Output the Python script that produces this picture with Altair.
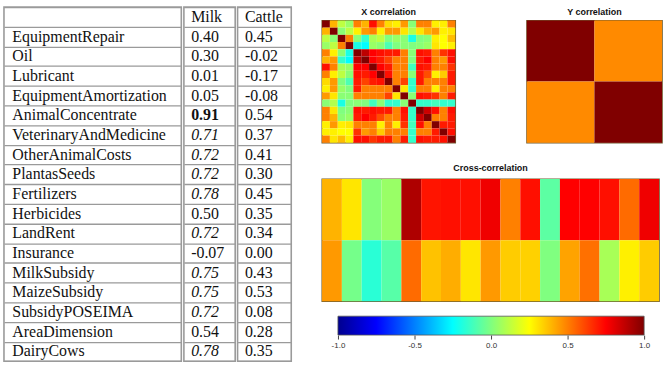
import altair as alt
import pandas as pd

# ---------------- data ----------------
variables = ["EquipmentRepair", "Oil", "Lubricant", "EquipmentAmortization",
             "AnimalConcentrate", "VeterinaryAndMedicine", "OtherAnimalCosts",
             "PlantasSeeds", "Fertilizers", "Herbicides", "LandRent", "Insurance",
             "MilkSubsidy", "MaizeSubsidy", "SubsidyPOSEIMA", "AreaDimension", "DairyCows"]
outputs = ["Milk", "Cattle"]
milk = [0.40, 0.30, 0.01, 0.05, 0.91, 0.71, 0.72, 0.72, 0.78, 0.50, 0.72, -0.07,
        0.75, 0.75, 0.72, 0.54, 0.78]
cattle = [0.45, -0.02, -0.17, -0.08, 0.54, 0.37, 0.41, 0.30, 0.45, 0.35, 0.34, 0.00,
          0.43, 0.53, 0.08, 0.28, 0.35]
milk_style = ["normal", "normal", "normal", "normal", "bold", "italic", "italic",
              "italic", "italic", "normal", "italic", "normal", "italic", "italic",
              "italic", "normal", "italic"]

y_corr = [[1.00, 0.48],
          [0.48, 1.00]]

# upper triangle of the X correlation matrix (row i, columns i+1 .. 16)
x_corr_upper = [
    [0.40, 0.12, 0.05, 0.50, 0.40, 0.72, 0.50, 0.32, 0.28, 0.45, 0.02, 0.50, 0.50, 0.28, 0.28, 0.50],
    [0.02, 0.12, 0.28, 0.45, 0.50, 0.28, 0.45, 0.45, 0.30, 0.10, 0.30, 0.40, 0.45, 0.28, 0.30],
    [0.50, 0.02, -0.15, 0.08, 0.12, 0.00, 0.05, 0.02, -0.20, 0.00, 0.02, 0.28, 0.25, 0.38],
    [-0.20, -0.25, 0.05, 0.02, -0.10, 0.00, 0.02, 0.00, 0.02, 0.05, 0.30, 0.25, 0.28],
    [0.88, 0.75, 0.72, 0.70, 0.70, 0.50, 0.02, 0.72, 0.70, 0.50, 0.65, 0.72],
    [0.75, 0.70, 0.62, 0.50, 0.50, 0.00, 0.70, 0.75, 0.50, 0.45, 0.72],
    [0.75, 0.70, 0.50, 0.50, -0.12, 0.72, 0.70, 0.50, 0.50, 0.65],
    [0.72, 0.50, 0.50, 0.02, 0.70, 0.60, 0.28, 0.35, 0.70],
    [0.50, 0.62, -0.15, 0.70, 0.50, 0.50, 0.50, 0.70],
    [0.30, -0.15, 0.50, 0.50, 0.28, 0.50, 0.50],
    [0.02, 0.72, 0.70, 0.65, 0.50, 0.70],
    [-0.15, -0.15, -0.12, -0.15, -0.15],
    [0.85, 0.72, 0.50, 0.72],
    [0.50, 0.50, 0.70],
    [0.70, 0.70],
    [0.72],
]

panel_titles = ["X correlation", "Y correlation", "Cross-correlation"]
colorbar_ticks = [-1.0, -0.5, 0.0, 0.5, 1.0]
jet_stops = [-1.0, -0.75, -0.25, 0.25, 0.75, 1.0]
jet_colors = ["#00008F", "#0000FF", "#00FFFF", "#FFFF00", "#FF0000", "#800000"]

# ---------------- helpers ----------------
SERIF = "Liberation Serif"
SANS = "Liberation Sans"
GRID = "#9a9a9a"
N_ROWS = len(variables) + 1
TABLE_H = 356.4
NO_STROKE = alt.ViewBackground(stroke="transparent")

jet_scale = alt.Scale(domain=jet_stops, range=jet_colors, interpolate="rgb")


def table_col(texts, styles, width, pad):
    df = pd.DataFrame({"row": list(range(len(texts))), "text": texts, "style": styles})
    base = alt.Chart(df).encode(
        y=alt.Y("row:O",
                scale=alt.Scale(domain=list(range(N_ROWS)), paddingInner=0, paddingOuter=0),
                axis=alt.Axis(grid=True, gridColor=GRID, gridWidth=1.3, tickBand="extent",
                              labels=False, ticks=False, domain=False, title=None,
                              minExtent=0)),
        x=alt.value(pad),
        text="text:N",
    )
    fmt = {"normal": ("normal", "normal"), "italic": ("italic", "normal"),
           "bold": ("normal", "bold")}
    layers = []
    for st, (fs, fw) in fmt.items():
        if st in styles:
            layers.append(
                base.transform_filter(alt.datum.style == st).mark_text(
                    align="left", baseline="middle", font=SERIF, fontSize=16,
                    fontStyle=fs, fontWeight=fw, color="#111"))
    return alt.layer(*layers).properties(
        width=width, height=TABLE_H,
        view=alt.ViewBackground(stroke=GRID, strokeWidth=1.6))


names_col = table_col([""] + variables, ["normal"] * N_ROWS, 178.4, 8.4)
milk_col = table_col(["Milk"] + ["{:.2f}".format(v) for v in milk],
                     ["normal"] + milk_style, 51.6, 7.3)
cattle_col = table_col(["Cattle"] + ["{:.2f}".format(v) for v in cattle],
                       ["normal"] * N_ROWS, 54, 7.4)
table = alt.hconcat(names_col, milk_col, cattle_col, spacing=0)


def title_chart(txt, w, h):
    return alt.Chart(pd.DataFrame({"t": [txt]})).mark_text(
        font=SANS, fontSize=9, fontWeight="bold", color="#111", baseline="middle",
        align="center").encode(text="t:N").properties(width=w, height=h, view=NO_STROKE)


def heat(df, w, h):
    return alt.Chart(df).mark_rect().encode(
        x=alt.X("col:O", axis=None),
        y=alt.Y("row:O", axis=None),
        color=alt.Color("value:Q", scale=jet_scale, legend=None),
    ).properties(width=w, height=h,
                 view=alt.ViewBackground(stroke="#6e5c30", strokeWidth=1.4))


n = len(variables)
xc = [[1.0] * n for _ in range(n)]
for i, row in enumerate(x_corr_upper):
    for k, v in enumerate(row):
        j = i + 1 + k
        xc[i][j] = v
        xc[j][i] = v
x_df = pd.DataFrame([{"row": i, "col": j, "value": xc[i][j]}
                     for i in range(n) for j in range(n)])
y_df = pd.DataFrame([{"row": i, "col": j, "value": y_corr[i][j]}
                     for i in range(2) for j in range(2)])
cross_vals = [milk, cattle]
c_df = pd.DataFrame([{"row": i, "col": j, "value": cross_vals[i][j]}
                     for i in range(2) for j in range(n)])

X_W, Y_W, C_W, HM_H = 134, 136, 339, 123
x_chart = heat(x_df, X_W, HM_H)
y_chart = heat(y_df, Y_W, HM_H)
cross_chart = heat(c_df, C_W, HM_H)

CB_LEFT, CB_RIGHT = 16, 15   # margins of the bar inside the colorbar panel
unit = (C_W - CB_LEFT - CB_RIGHT) / (colorbar_ticks[-1] - colorbar_ticks[0])
cb_domain = [colorbar_ticks[0] - CB_LEFT / unit, colorbar_ticks[-1] + CB_RIGHT / unit]

gradient = alt.LinearGradient(
    gradient="linear",
    stops=[alt.GradientStop(offset=(v + 1) / 2, color=c) for v, c in zip(jet_stops, jet_colors)],
    x1=0, x2=1, y1=0, y2=0)
cb_df = pd.DataFrame({"lo": [colorbar_ticks[0]], "hi": [colorbar_ticks[-1]]})
colorbar = alt.Chart(cb_df).mark_rect(color=gradient, stroke="#555", strokeWidth=0.8).encode(
    x=alt.X("lo:Q",
            scale=alt.Scale(domain=cb_domain, nice=False, zero=False),
            axis=alt.Axis(values=colorbar_ticks, format=".1f",
                          labelExpr="replace(format(datum.value, '.1f'), '\u2212', '-')",
                          tickSize=4, tickColor="#444", domain=False, grid=False, title=None,
                          labelFontSize=8, labelFont=SANS, labelColor="#333",
                          labelPadding=2, labelFlush=False)),
    x2="hi:Q",
).properties(width=C_W, height=19, view=NO_STROKE)

title_row = alt.hconcat(title_chart(panel_titles[0], X_W, 9),
                        title_chart(panel_titles[1], Y_W, 9), spacing=70)
heat_row = alt.hconcat(x_chart, y_chart, spacing=70)
block_a = alt.vconcat(title_row, heat_row, spacing=2.5)
block_b = alt.vconcat(title_chart(panel_titles[2], C_W, 9), cross_chart, spacing=5)
block_c = alt.vconcat(block_b, colorbar, spacing=13)
right = alt.vconcat(block_a, block_c, spacing=18)

chart = alt.hconcat(table, right, spacing=29).properties(
    padding={"left": 3, "top": 5, "right": 1, "bottom": 0},
    background="white",
)

chart.save("out.html", embed_options={"renderer": "svg", "actions": False})
